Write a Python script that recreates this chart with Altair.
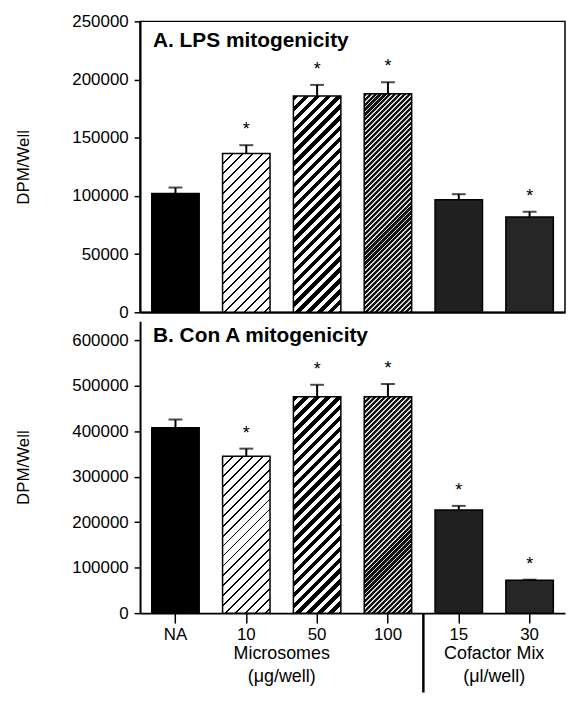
import altair as alt
import pandas as pd

# ---------------- data ----------------
conds = ["NA", "10", "50", "100", "15", "30"]
lps_mean = [102000, 136500, 185800, 187700, 96700, 81900]
lps_sem = [5200, 7100, 9600, 10000, 4800, 4500]
lps_star = [False, True, True, True, False, True]
cona_mean = [407300, 344700, 475700, 475700, 226900, 72000]
cona_sem = [18200, 16800, 26100, 27600, 8800, 1500]
cona_star = [False, True, True, True, True, True]
lps_ticks = [0, 50000, 100000, 150000, 200000, 250000]
cona_ticks = [0, 100000, 200000, 300000, 400000, 500000, 600000]
group_pos = ["10", "15"]          # label sits at the right edge of these slots
group_text = ["Microsomes\n(\u03bcg/well)", "Cofactor Mix\n(\u03bcl/well)"]
sep_pos = ["100"]                 # separator at the right edge of this slot

# ---------------- style ----------------
FONT = "Liberation Sans"
W = 428
H1 = 293
H2 = 294
PI = 0.33
PO = PI / 2
STEP = W / (len(conds) - PI + 2 * PO)
BW = STEP * (1 - PI)
GAP = PI * STEP / 2

styles = {
    "NA": "#000000",
    "10": (10.0, 0.18, "#000000", "#ffffff"),
    "50": (11.0, 0.5, "#000000", "#ffffff"),
    "100": (5.0, 0.62, "#111111", "#d8d8d8"),
    "15": "#202020",
    "30": "#262626",
}


def fill_for(style, h_px):
    if isinstance(style, str):
        return style
    period, frac, dark, light = style
    k = max(h_px / BW, 1.0)
    n = int(round(BW * (1 + k * k) / period))
    stops = []
    for i in range(n):
        a, b, c = i / n, (i + frac) / n, (i + 1) / n
        stops += [
            {"offset": a, "color": dark},
            {"offset": b, "color": dark},
            {"offset": b, "color": light},
            {"offset": c, "color": light},
        ]
    return {"gradient": "linear", "x1": 0, "y1": 0, "x2": 1, "y2": k, "stops": stops}


def panel(mean, sem, star, H, ymax, ticks, title, bottom):
    df = pd.DataFrame({
        "cond": conds,
        "mean": mean,
        "top": [m + s for m, s in zip(mean, sem)],
        "star": ["*" if s else "" for s in star],
    })
    xscale = alt.Scale(domain=conds, paddingInner=PI, paddingOuter=PO)
    if bottom:
        xaxis = alt.Axis(labelAngle=0, title=None, tickSize=10, labelPadding=4)
    else:
        xaxis = alt.Axis(labels=False, ticks=False, title=None)
    x = alt.X("cond:N", sort=conds, scale=xscale, axis=xaxis)
    yscale = alt.Scale(domain=[0, ymax], nice=False, zero=True)
    yaxis = alt.Axis(values=ticks, title="DPM/Well", tickSize=6, labelPadding=6,
                     titlePadding=40, format="d")
    y = alt.Y("mean:Q", scale=yscale, axis=yaxis)

    layers = []
    for c, m in zip(conds, mean):
        h_px = m / ymax * H
        layers.append(
            alt.Chart(df).transform_filter(alt.datum.cond == c)
            .mark_bar(fill=fill_for(styles[c], h_px), stroke="black", strokeWidth=1.5)
            .encode(x=x, y=y)
        )
    err = alt.Chart(df).mark_rule(color="black", strokeWidth=2).encode(
        x=x, y=y, y2="top:Q")
    cap = alt.Chart(df).mark_tick(color="black", size=14, thickness=2).encode(
        x=x, y=alt.Y("top:Q", scale=yscale, axis=yaxis))
    stars = alt.Chart(df).mark_text(font=FONT, fontSize=18, dy=-10, baseline="alphabetic",
                                    color="black").encode(
        x=x, y=alt.Y("top:Q", scale=yscale, axis=yaxis), text="star:N")
    ttl = alt.Chart(pd.DataFrame({"t": [title]})).mark_text(
        font=FONT, fontSize=21, fontWeight="bold", align="left", baseline="middle",
        color="black").encode(x=alt.value(13), y=alt.value(15 if bottom else 20),
                              text="t:N")
    layers += [err, cap, stars, ttl]

    if bottom:
        gdf = pd.DataFrame({"pos": group_pos, "txt": group_text})
        glab = alt.Chart(gdf).mark_text(
            font=FONT, fontSize=18, lineBreak="\n", lineHeight=23, baseline="top",
            align="center", color="black", xOffset=GAP).encode(
            x=alt.X("pos:N", scale=xscale, axis=xaxis, bandPosition=1),
            y=alt.value(H + 32), text="txt:N")
        sdf = pd.DataFrame({"pos": sep_pos})
        sep = alt.Chart(sdf).mark_rule(color="black", strokeWidth=2.5, xOffset=GAP).encode(
            x=alt.X("pos:N", scale=xscale, axis=xaxis, bandPosition=1),
            y=alt.Y(datum=0, scale=yscale, axis=yaxis), y2=alt.value(H + 80))
        layers += [glab, sep]

    view = alt.ViewBackground(stroke="black" if not bottom else None, strokeWidth=1.5) \
        if not bottom else alt.ViewBackground(strokeWidth=0)
    return alt.layer(*layers).properties(width=W, height=H, view=view)


top = panel(lps_mean, lps_sem, lps_star, H1, 250000, lps_ticks,
            "A. LPS mitogenicity", False)
bot = panel(cona_mean, cona_sem, cona_star, H2, 641500, cona_ticks,
            "B. Con A  mitogenicity", True)

chart = alt.vconcat(top, bot, spacing=0).properties(
    padding={"left": 5, "top": 1, "right": 0, "bottom": 0},
    background="white",
).configure_axis(
    labelFont=FONT, labelFontSize=17, labelColor="black",
    titleFont=FONT, titleFontSize=17, titleFontWeight="normal", titleColor="black",
    domainColor="black", domainWidth=2, tickColor="black", tickWidth=1.5, grid=False,
)

chart.save("out.html", embed_options={"renderer": "svg", "actions": False})
